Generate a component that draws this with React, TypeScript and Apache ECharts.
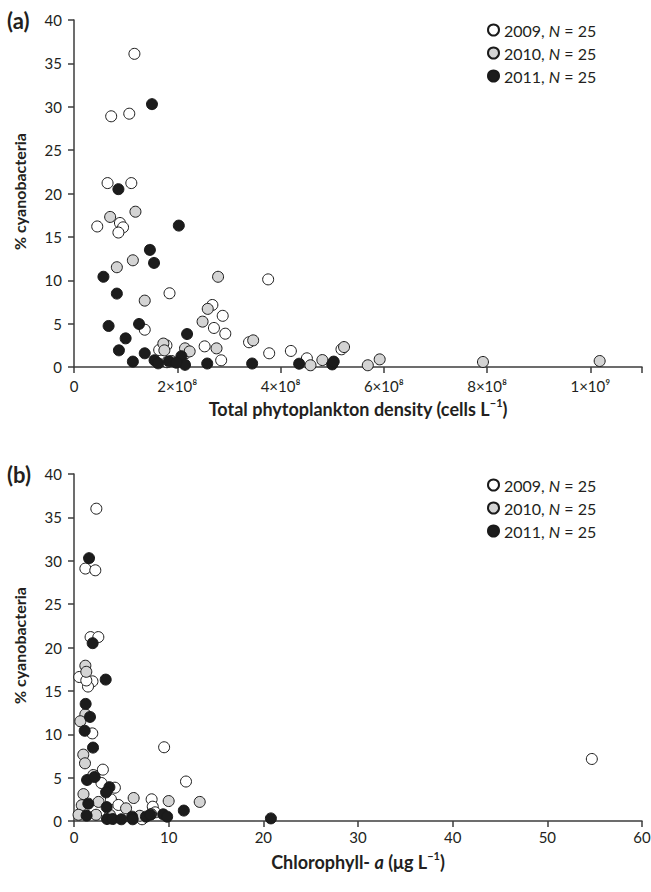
import React, { useEffect, useRef } from 'react';
import * as echarts from 'echarts';

const FONT = 'Lato';

// Panel (a): total phytoplankton density (cells L-1) vs % cyanobacteria
const topData2009: number[][] = [
  [1.17e8, 36.1], [0.72e8, 28.9], [1.07e8, 29.2], [0.65e8, 21.2], [1.11e8, 21.2],
  [0.45e8, 16.2], [0.89e8, 16.6], [0.95e8, 16.1], [0.86e8, 15.5], [3.76e8, 10.1],
  [1.85e8, 8.5], [2.68e8, 7.15], [2.88e8, 5.9], [1.37e8, 4.3], [2.71e8, 4.5],
  [2.93e8, 3.84], [3.39e8, 2.85], [1.79e8, 2.5], [1.65e8, 1.96], [2.16e8, 1.58],
  [2.53e8, 2.38], [3.78e8, 1.58], [4.2e8, 1.85], [4.51e8, 1.0], [2.85e8, 0.77],
  [5.18e8, 2.04],
];
const topData2010: number[][] = [
  [0.7e8, 17.3], [1.19e8, 17.9], [1.14e8, 12.3], [0.83e8, 11.5], [2.79e8, 10.4],
  [1.37e8, 7.65], [2.59e8, 6.7], [2.49e8, 5.23], [3.47e8, 3.07], [1.73e8, 2.7],
  [1.75e8, 1.92], [2.15e8, 2.15], [2.24e8, 1.8], [2.76e8, 2.15], [4.58e8, 0.2],
  [4.81e8, 0.8], [1.89e8, 0.69], [5.23e8, 2.3], [5.69e8, 0.2], [5.92e8, 0.88],
  [7.92e8, 0.58], [10.18e8, 0.69], [1.8e8, 0.55],
];
const topData2011: number[][] = [
  [1.51e8, 30.3], [0.86e8, 20.5], [2.03e8, 16.3], [1.47e8, 13.5], [1.55e8, 12.0],
  [0.57e8, 10.4], [0.83e8, 8.46], [0.67e8, 4.73], [1.26e8, 4.96], [2.19e8, 3.8],
  [1.0e8, 3.3], [0.87e8, 1.92], [1.37e8, 1.58], [4.36e8, 0.38], [3.45e8, 0.4],
  [2.58e8, 0.4], [1.14e8, 0.62], [1.56e8, 0.78], [1.63e8, 0.42], [1.84e8, 0.65],
  [2.08e8, 1.25], [2.15e8, 0.25], [5.0e8, 0.3], [5.03e8, 0.62], [1.98e8, 0.5],
];

// Panel (b): chlorophyll-a (ug L-1) vs % cyanobacteria
const botData2009: number[][] = [
  [2.36, 36.0], [1.2, 29.1], [2.25, 28.9], [1.75, 21.2], [2.57, 21.2],
  [0.56, 16.6], [1.95, 16.1], [1.48, 15.5], [1.3, 16.2], [1.93, 10.1],
  [9.52, 8.5], [3.05, 5.92], [11.83, 4.55], [2.9, 4.38], [4.32, 3.84],
  [8.2, 2.5], [3.9, 2.5], [4.69, 1.85], [8.32, 1.65], [8.57, 1.0],
  [7.19, 0.2], [54.7, 7.15],
];
const botData2010: number[][] = [
  [1.2, 17.9], [1.3, 17.2], [1.2, 12.3], [0.67, 11.5], [0.98, 7.65],
  [1.16, 6.65], [2.04, 5.3], [1.0, 3.1], [6.3, 2.65], [10.0, 2.3],
  [13.28, 2.2], [2.59, 2.2], [0.82, 1.82], [5.5, 1.46], [0.48, 0.72],
  [2.33, 0.72], [6.95, 0.6], [3.8, 0.7], [8.15, 0.8],
];
const botData2011: number[][] = [
  [1.59, 30.3], [1.97, 20.5], [3.35, 16.3], [1.23, 13.5], [1.69, 12.0],
  [1.13, 10.4], [2.01, 8.46], [1.38, 4.73], [2.18, 5.07], [3.74, 3.9],
  [3.39, 3.3], [1.51, 2.0], [3.45, 1.6], [11.6, 1.2], [1.33, 0.62],
  [9.42, 0.77], [9.84, 0.5], [3.49, 0.23], [4.09, 0.23], [5.0, 0.2],
  [6.14, 0.5], [6.2, 0.2], [7.6, 0.5], [8.07, 0.73], [20.8, 0.3],
];

const years = ['2009', '2010', '2011'];
const yearN = [25, 25, 25];
const yearColors = ['#ffffff', '#d4d4d4', '#1c1c1c'];

const yTicks = { min: 0, max: 40, interval: 5 };
const topXTicks = [0, 2e8, 4e8, 6e8, 8e8, 1e9];
const topXTickLabels = ['0', '2×10⁸', '4×10⁸', '6×10⁸', '8×10⁸', '1×10⁹'];
const topXMax = 1.1e9;
const botXTicks = { min: 0, max: 60, interval: 10 };

const AXIS_COLOR = '#3c3c3c';
const TEXT_COLOR = '#231f20';

const nameRich = {
  b: { fontFamily: FONT, fontSize: 18, fontWeight: 'bold', color: TEXT_COLOR, lineHeight: 18, verticalAlign: 'bottom' },
  bi: { fontFamily: FONT, fontSize: 18, fontWeight: 'bold', fontStyle: 'italic', color: TEXT_COLOR, lineHeight: 18, verticalAlign: 'bottom' },
  bs: { fontFamily: FONT, fontSize: 11, fontWeight: 'bold', color: TEXT_COLOR, lineHeight: 18, verticalAlign: 'top', padding: [-3, 0, 0, 0] },
};

function axisCommon() {
  return {
    axisLine: { show: true, lineStyle: { color: AXIS_COLOR, width: 1.5 } },
    axisTick: { show: true, length: 6, lineStyle: { color: AXIS_COLOR, width: 1.5 } },
    splitLine: { show: false },
    nameMoveOverlap: false,
  };
}

function yAxis(gridIndex: number) {
  return {
    type: 'value',
    gridIndex,
    min: yTicks.min,
    max: yTicks.max,
    interval: yTicks.interval,
    ...axisCommon(),
    axisLabel: { fontFamily: FONT, fontSize: 15, color: TEXT_COLOR, margin: 12 },
    name: '% cyanobacteria',
    nameLocation: 'middle',
    nameGap: 47,
    nameTextStyle: { fontFamily: FONT, fontSize: 16, fontWeight: 'bold', color: TEXT_COLOR, padding: [0, 0, 0, 4] },
  };
}

function scatter(name: string, idx: number, xi: number, data: number[][]) {
  return {
    type: 'scatter',
    name,
    xAxisIndex: xi,
    yAxisIndex: xi,
    data,
    symbol: 'circle',
    symbolSize: 11,
    itemStyle: { color: yearColors[idx], borderColor: '#1a1a1a', borderWidth: 1, opacity: 1 },
    emphasis: { disabled: true },
  };
}

function legend(top: number) {
  return {
    data: years,
    orient: 'vertical',
    left: 482,
    top,
    itemWidth: 11,
    itemHeight: 11,
    itemGap: 7,
    icon: 'circle',
    formatter: (name: string) => `{t|${name}, }{i|N}{t| = ${yearN[years.indexOf(name)]}}`,
    textStyle: {
      rich: {
        t: { fontFamily: FONT, fontSize: 16, color: TEXT_COLOR, lineHeight: 18 },
        i: { fontFamily: FONT, fontSize: 16, fontStyle: 'italic', color: TEXT_COLOR, lineHeight: 18 },
      },
    },
  };
}

const option = {
  animation: false,
  backgroundColor: '#ffffff',
  grid: [
    { left: 74, top: 20, width: 568, height: 347, outerBoundsMode: 'none', containLabel: false },
    { left: 74, top: 474, width: 568, height: 347, outerBoundsMode: 'none', containLabel: false },
  ],
  legend: [legend(17), legend(472)],
  xAxis: [
    {
      type: 'value',
      gridIndex: 0,
      min: 0,
      max: topXMax,
      interval: 2e8,
      ...axisCommon(),
      axisLabel: {
        fontFamily: FONT,
        fontSize: 15,
        lineHeight: 16,
        color: TEXT_COLOR,
        margin: 11,
        formatter: (v: number) => {
          const i = topXTicks.findIndex((t) => Math.abs(t - v) < 1);
          return i < 0 ? '' : topXTickLabels[i];
        },
      },
      name: '{b|Total phytoplankton density (cells L}{bs|−1}{b|)}',
      nameLocation: 'middle',
      nameGap: 33,
      nameTextStyle: { rich: nameRich },
    },
    {
      type: 'value',
      gridIndex: 1,
      min: botXTicks.min,
      max: botXTicks.max,
      interval: botXTicks.interval,
      ...axisCommon(),
      axisLabel: { fontFamily: FONT, fontSize: 15, lineHeight: 16, color: TEXT_COLOR, margin: 8 },
      name: '{b|Chlorophyll- }{bi|a}{b| (μg L}{bs|−1}{b|)}',
      nameLocation: 'middle',
      nameGap: 32,
      nameTextStyle: { rich: nameRich },
    },
  ],
  yAxis: [yAxis(0), yAxis(1)],
  graphic: [
    { type: 'text', left: 7, top: 9, style: { text: '(a)', fontFamily: FONT, fontSize: 22, fontWeight: 'bold', fill: TEXT_COLOR } },
    { type: 'text', left: 7, top: 463, style: { text: '(b)', fontFamily: FONT, fontSize: 22, fontWeight: 'bold', fill: TEXT_COLOR } },
  ],
  series: [
    scatter(years[0], 0, 0, topData2009),
    scatter(years[1], 1, 0, topData2010),
    scatter(years[2], 2, 0, topData2011),
    scatter(years[0], 0, 1, botData2009),
    scatter(years[1], 1, 1, botData2010),
    scatter(years[2], 2, 1, botData2011),
  ],
};

export default function App() {
  const ref = useRef<HTMLDivElement>(null);
  useEffect(() => {
    const chart = echarts.init(ref.current!, null, { renderer: 'svg' });
    chart.setOption(option as any);
    return () => chart.dispose();
  }, []);
  return (
    <div
      ref={ref}
      style={{ position: 'absolute', left: 0, top: 0, width: 651, height: 892, background: '#ffffff' }}
    />
  );
}
